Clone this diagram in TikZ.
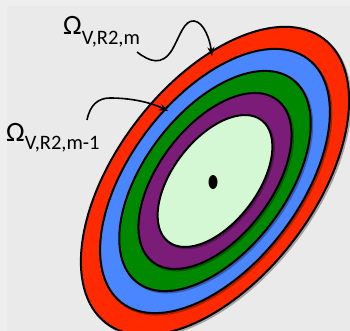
\documentclass[tikz,border=0pt]{standalone}
\usepackage{fontspec}
\setmainfont{Carlito}
\usetikzlibrary{arrows.meta}
\definecolor{bgout}{HTML}{EEEEEE}
\definecolor{bgin}{HTML}{EAEAEA}
\definecolor{ringred}{HTML}{FF2A00}
\definecolor{ringblue}{HTML}{4A86FF}
\definecolor{ringgreen}{HTML}{008800}
\definecolor{ringpurple}{HTML}{7A1C78}
\definecolor{ringcore}{HTML}{D4F8D4}
\tikzset{
  ring/.style={draw=black, line width=2pt},
  ringshadow/.style={fill=black, opacity=0.3},
  lbl/.style={anchor=base west, inner sep=0pt, font=\fontsize{28}{28}\selectfont},
  pointer/.style={draw=black, line width=1.6pt, -{Stealth[length=9pt,width=7pt]}}
}
\newcommand{\ringsub}[2]{\raisebox{-#1}{\fontsize{20.5}{20.5}\selectfont #2}}
\begin{document}
\begin{tikzpicture}[x=1pt,y=-1pt]
\useasboundingbox (0,0) rectangle (350,331);
\fill[bgout] (0,0) rectangle (350,331);
\fill[bgin] (7,6) rectangle (350,331);
\coordinate (c) at (215,181);
\foreach \s/\col in {1/ringred, 0.857/ringblue, 0.714/ringgreen, 0.571/ringpurple, 0.428/ringcore}{
  \fill[ringshadow, rotate around={52.5:(216.5,182.5)}] (216.5,182.5) ellipse [x radius={179*\s+1}, y radius={98.5*\s+1}];
  \filldraw[ring, fill=\col, rotate around={52.5:(c)}] (c) ellipse [x radius={179*\s}, y radius={98.5*\s}];
}
\fill[black] (213,182) ellipse [x radius=4.5, y radius=7];
\node[lbl] (lm) at (63,35) {Ω\ringsub{10pt}{V,R2,m}};
\node[lbl] (lm1) at (6,142) {Ω\ringsub{8pt}{V,R2,m-1}};
\coordinate (a1s) at (137,52);
\coordinate (a1t) at (212,56);
\coordinate (a2s) at (87,120);
\coordinate (a2t) at (168,111);
\draw[pointer] (a1s) .. controls (150,62) and (162,66) .. (172,50)
  .. controls (180,36) and (184,20) .. (194,21)
  .. controls (204,22) and (210,40) .. (a1t);
\draw[pointer] (a2s) .. controls (90,105) and (98,98) .. (110,98)
  .. controls (130,98) and (150,102) .. (a2t);
\end{tikzpicture}
\end{document}
